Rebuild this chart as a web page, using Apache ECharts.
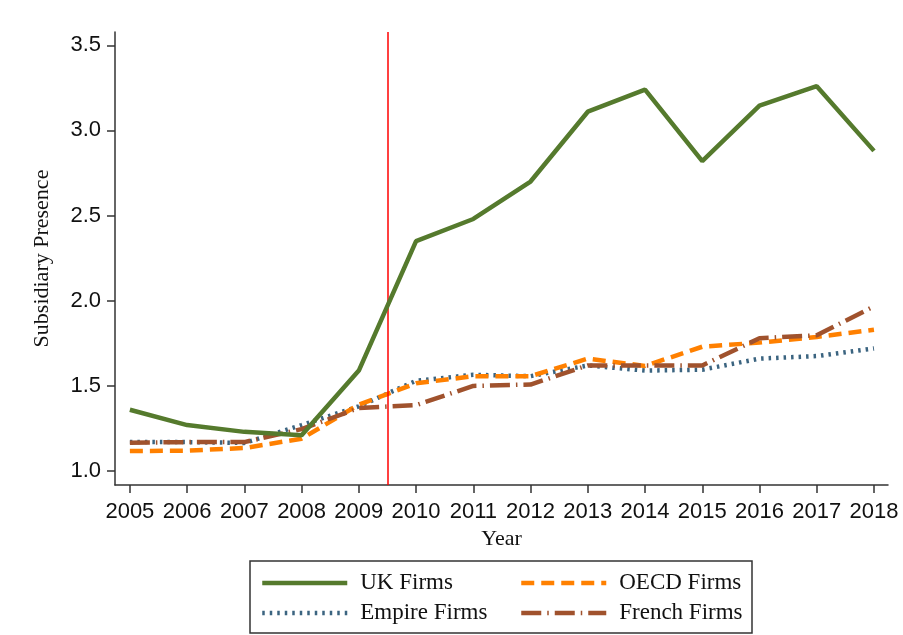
<!DOCTYPE html>
<html><head><meta charset="utf-8">
<script src="https://cdn.jsdelivr.net/npm/echarts@6/dist/echarts.min.js"></script>
<style>html,body{margin:0;padding:0;background:#fff}#c{width:903px;height:635px}</style>
</head><body><div id="c"></div>
<script>
const years = [2005,2006,2007,2008,2009,2010,2011,2012,2013,2014,2015,2016,2017,2018];
const ukFirms     = [1.36,1.27,1.23,1.21,1.59,2.35,2.48,2.70,3.11,3.24,2.82,3.145,3.26,2.88];
const empireFirms = [1.17,1.17,1.165,1.27,1.38,1.53,1.565,1.557,1.62,1.59,1.595,1.66,1.675,1.72];
const oecdFirms   = [1.117,1.12,1.135,1.19,1.39,1.515,1.557,1.557,1.66,1.617,1.73,1.754,1.787,1.83];
const frenchFirms = [1.166,1.17,1.17,1.246,1.37,1.387,1.50,1.508,1.62,1.62,1.62,1.78,1.797,1.967];
const yTicks = [1.0,1.5,2.0,2.5,3.0,3.5];
const cutoffYear = 2009.5;

const pairs = a => years.map((y,i)=>[y,a[i]]);
const chart = echarts.init(document.getElementById('c'));
const lbl = {fontFamily:'Liberation Sans, Arial', fontSize:22, color:'#111'};
const serif = 'Liberation Serif, Times New Roman';
const legText = {fontFamily:serif,fontSize:23,color:'#111',lineHeight:26,padding:[0,0,0,8]};
chart.setOption({
  animation:false,
  backgroundColor:'#fff',
  grid:{left:115,right:15,top:32,bottom:150},
  xAxis:{type:'value',min:2004.74,max:2018.245,
    name:'Year',nameLocation:'middle',nameGap:42,
    nameTextStyle:{fontFamily:serif,fontSize:22,color:'#111'},
    axisLine:{show:true,onZero:false,lineStyle:{color:'#333',width:1.5}},
    axisTick:{show:true,length:8,customValues:years,lineStyle:{color:'#333',width:1.5}},
    axisLabel:Object.assign({margin:16,customValues:years,formatter:v=>String(v)},lbl),
    splitLine:{show:false}},
  yAxis:{type:'value',min:0.918,max:3.578,
    name:'Subsidiary Presence',nameLocation:'middle',nameGap:62,
    nameTextStyle:{fontFamily:serif,fontSize:22,color:'#111'},
    axisLine:{show:true,onZero:false,lineStyle:{color:'#333',width:1.5}},
    axisTick:{show:true,length:8,customValues:yTicks,lineStyle:{color:'#333',width:1.5}},
    axisLabel:Object.assign({margin:14,customValues:yTicks,formatter:v=>v.toFixed(1)},lbl),
    splitLine:{show:false}},
  legend:[
    {data:['UK Firms','Empire Firms'],orient:'vertical',left:255,top:565,itemWidth:85,itemHeight:14,itemGap:4,
     itemStyle:{opacity:0},lineStyle:{width:4.5},textStyle:legText},
    {data:['OECD Firms','French Firms'],orient:'vertical',left:514,top:565,itemWidth:85,itemHeight:14,itemGap:4,
     itemStyle:{opacity:0},lineStyle:{width:4.5},textStyle:legText}
  ],
  graphic:[{type:'rect',shape:{x:250,y:561,width:502,height:72},style:{fill:null,stroke:'#333',lineWidth:1.5},z:0}],
  series:[
    {name:'UK Firms',type:'line',data:pairs(ukFirms),symbol:'none',color:'#557a2d',
     lineStyle:{width:4.5,color:'#557a2d'},z:5,
     markLine:{silent:true,symbol:'none',label:{show:false},lineStyle:{color:'#ff0000',width:1.5,type:'solid'},data:[{xAxis:cutoffYear}]}},
    {name:'Empire Firms',type:'line',data:pairs(empireFirms),symbol:'none',color:'#3b6480',
     lineStyle:{width:4.5,color:'#3b6480',type:[2.5,5]},z:3},
    {name:'OECD Firms',type:'line',data:pairs(oecdFirms),symbol:'none',color:'#ff8000',
     lineStyle:{width:4.5,color:'#ff8000',type:[13,7]},z:4},
    {name:'French Firms',type:'line',data:pairs(frenchFirms),symbol:'none',color:'#a0522d',
     lineStyle:{width:4.5,color:'#a0522d',type:[20,6,1.5,6]},z:4}
  ]
});
</script></body></html>
